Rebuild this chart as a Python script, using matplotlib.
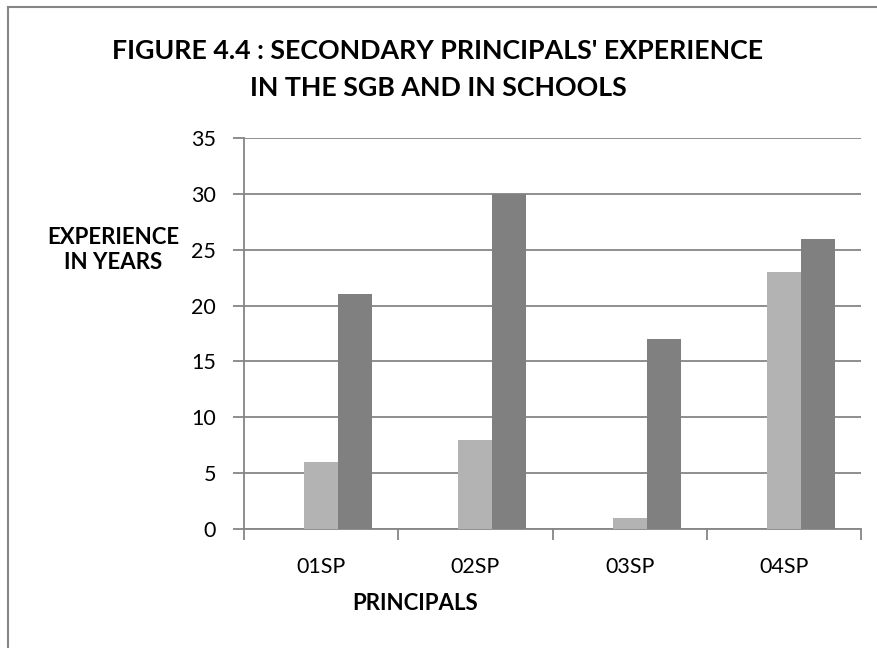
import matplotlib
matplotlib.use("Agg")
import matplotlib.pyplot as plt
from matplotlib.lines import Line2D
import numpy as np

categories = ["01SP", "02SP", "03SP", "04SP"]
sgb_years = [6, 8, 1, 23]
school_years = [21, 30, 17, 26]
y_ticks = [0, 5, 10, 15, 20, 25, 30, 35]

plt.rcParams['font.family'] = ['Lato', 'DejaVu Sans']

fig = plt.figure(figsize=(8.77, 6.48), dpi=100)
ax = fig.add_axes([244/877, 1-529/648, (861-244)/877, (529-138)/648])

x = np.arange(len(categories))
w = 0.22
ax.bar(x, sgb_years, width=w, color='#b3b3b3', zorder=3)
ax.bar(x + w, school_years, width=w, color='#808080', zorder=3)

ax.set_xlim(-0.5, len(categories) - 0.5)
ax.set_ylim(0, 35)
ax.set_yticks(y_ticks)
ax.set_yticklabels([str(t) for t in y_ticks], fontsize=15.5)
ax.yaxis.grid(True, color='#868686', linewidth=1.3, zorder=0)
ax.set_axisbelow(True)

ax.set_xticks(x)
ax.set_xticklabels(categories, fontsize=15.5)
ax.tick_params(axis='x', length=0, pad=20)
ax.set_xticks(np.arange(-0.5, len(categories)), minor=True)
ax.tick_params(axis='x', which='minor', length=8, color='#868686', width=1.3)
ax.tick_params(axis='y', length=8, color='#868686', width=1.3, pad=12)

for s in ['top', 'right']:
    ax.spines[s].set_visible(False)
for s in ['left', 'bottom']:
    ax.spines[s].set_color('#868686')
    ax.spines[s].set_linewidth(1.3)

fig.text(438/877, 1-51/648, "FIGURE 4.4 : SECONDARY PRINCIPALS' EXPERIENCE",
         ha='center', va='center', fontsize=19.3, fontweight='bold')
fig.text(438/877, 1-88/648, "IN THE SGB AND IN SCHOOLS",
         ha='center', va='center', fontsize=19.3, fontweight='bold')
fig.text(113/877, 1-250/648, "EXPERIENCE\nIN YEARS", ha='center', va='center',
         fontsize=16, fontweight='bold', linespacing=1.25)
fig.text(415/877, 1-604/648, "PRINCIPALS", ha='center', va='center',
         fontsize=16, fontweight='bold')

fig.add_artist(Line2D([8/877, 8/877], [0, 1-7/648], color='#868686', linewidth=1.5,
                      transform=fig.transFigure))
fig.add_artist(Line2D([8/877, 1], [1-7/648, 1-7/648], color='#868686', linewidth=1.5,
                      transform=fig.transFigure))

fig.savefig("out.png", dpi=100)
